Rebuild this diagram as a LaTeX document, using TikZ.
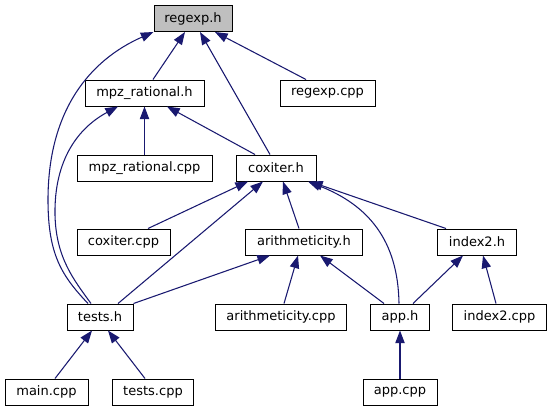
\documentclass[tikz,border=0pt]{standalone}
\usepackage{fontspec}
\setmainfont{DejaVu Sans}
\usetikzlibrary{arrows.meta,calc}
\definecolor{edgeblue}{HTML}{191970}
\definecolor{hilite}{HTML}{BFBFBF}
\tikzset{
  box/.style={draw=black, line width=0.75pt, fill=white, inner sep=0pt,
    minimum height=19.5pt, font=\fontsize{9.75}{11}\selectfont, text=black},
  edge/.style={draw=edgeblue, line width=0.8pt,
    -{Triangle[length=9.5pt,width=7pt,fill=edgeblue]}},
}
\begin{document}
\begin{tikzpicture}[x=0.75pt,y=-0.75pt]
\useasboundingbox (0,0) rectangle (552,411);
% nodes
\node[box, fill=hilite, minimum width=58.5pt] (regexph) at (193,18.5) {regexp.h};
\node[box, minimum width=89.25pt] (mpzh) at (144.5,93) {mpz\_rational.h};
\node[box, minimum width=71.25pt] (regexpcpp) at (327.5,93) {regexp.cpp};
\node[box, minimum width=101.25pt] (mpzcpp) at (144.5,168) {mpz\_rational.cpp};
\node[box, minimum width=60pt] (coxh) at (276,168) {coxiter.h};
\node[box, minimum width=69.75pt] (coxcpp) at (123.5,242) {coxiter.cpp};
\node[box, minimum width=87.75pt] (arithh) at (304,242) {arithmeticity.h};
\node[box, minimum width=59.25pt] (indexh) at (477,242) {index2.h};
\node[box, minimum width=49.5pt] (testsh) at (100,317) {tests.h};
\node[box, minimum width=98.25pt] (arithcpp) at (281,317) {arithmeticity.cpp};
\node[box, minimum width=44.25pt] (apph) at (400,317) {app.h};
\node[box, minimum width=70.5pt] (indexcpp) at (499.5,317) {index2.cpp};
\node[box, minimum width=62.25pt] (maincpp) at (46.5,392) {main.cpp};
\node[box, minimum width=60.75pt] (testscpp) at (153,392) {tests.cpp};
\node[box, minimum width=55.5pt] (appcpp) at (400,392) {app.cpp};
% edges
\draw[edge] ($(mpzh.north)+(8.5,0)$) -- ($(regexph.south)+(-8,0)$);
\draw[edge] ($(regexpcpp.north)+(-21.5,0)$) -- ($(regexph.south)+(22,0)$);
\draw[edge] ($(coxh.north)+(-6,0)$) -- ($(regexph.south)+(7,0)$);
\draw[edge] ($(testsh.north)+(-12,0)$) .. controls (62,276) and (48,255) .. (48,200)
   .. controls (48,110) and (90,60) .. (regexph.south west);
\draw[edge] ($(mpzcpp.north)$) -- ($(mpzh.south)$);
\draw[edge] ($(coxh.north)+(-21,0)$) -- ($(mpzh.south)+(22.5,0)$);
\draw[edge] ($(testsh.north)+(-9,0)$) .. controls (74,280) and (56,258) .. (55,215)
   .. controls (54,160) and (78,128) .. ($(mpzh.south)+(-26.5,0)$);
\draw[edge] ($(coxcpp.north)+(24.5,0)$) -- ($(coxh.south)+(-28,0)$);
\draw[edge] ($(testsh.north)+(18,0)$) -- ($(coxh.south)+(-13,0)$);
\draw[edge] ($(arithh.north)+(-5,0)$) -- ($(coxh.south)+(7,0)$);
\draw[edge] ($(apph.north)+(-1,0)$) .. controls (398,240) and (368,205) .. ($(coxh.south)+(32,0)$);
\draw[edge] ($(indexh.north)+(-31,0)$) -- ($(coxh.south)+(34,0)$);
\draw[edge] (testsh.north east) -- ($(arithh.south)+(-34,0)$);
\draw[edge] ($(arithcpp.north)+(3,0)$) -- ($(arithh.south)+(-6,0)$);
\draw[edge] ($(apph.north)+(-16,0)$) -- ($(arithh.south)+(16,0)$);
\draw[edge] ($(apph.north)+(13,0)$) -- ($(indexh.south)+(-14,0)$);
\draw[edge] ($(indexcpp.north)+(-3.5,0)$) -- ($(indexh.south)+(6,0)$);
\draw[edge] ($(maincpp.north)+(8.5,0)$) -- ($(testsh.south)+(-8,0)$);
\draw[edge] ($(testscpp.north)+(-8,0)$) -- ($(testsh.south)+(8,0)$);
\draw[edge] (appcpp.north) -- (apph.south);
\end{tikzpicture}
\end{document}
